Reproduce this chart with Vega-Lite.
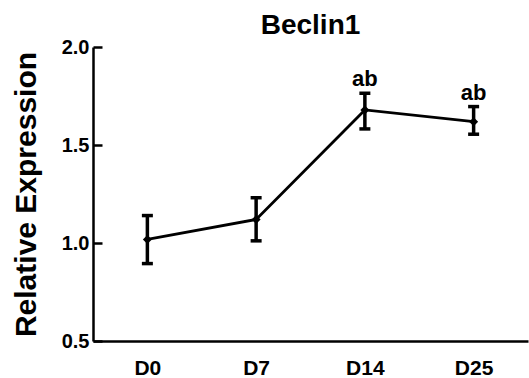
{
  "$schema": "https://vega.github.io/schema/vega-lite/v6.json",
  "width": 435,
  "height": 294,
  "autosize": {"type": "none"},
  "padding": {"left": 93, "top": 47, "right": 1, "bottom": 37},
  "title": {"text": "Beclin1", "fontSize": 28, "fontWeight": "bold", "font": "Liberation Sans", "color": "black", "offset": -3},
  "data": {"values": [
    {"day": "D0", "mean": 1.018, "lower": 0.895, "upper": 1.14, "label": ""},
    {"day": "D7", "mean": 1.12, "lower": 1.011, "upper": 1.231, "label": ""},
    {"day": "D14", "mean": 1.679, "lower": 1.582, "upper": 1.764, "label": "ab"},
    {"day": "D25", "mean": 1.619, "lower": 1.555, "upper": 1.696, "label": "ab"}
  ]},
  "config": {
    "view": {"stroke": null},
    "font": "Liberation Sans"
  },
  "encoding": {
    "x": {"field": "day", "type": "nominal", "sort": ["D0", "D7", "D14", "D25"],
      "scale": {"type": "point", "padding": 0.5},
      "axis": {"title": null, "labelAngle": 0, "labelFontSize": 21, "labelFontWeight": "bold", "labelColor": "black", "labelPadding": 16, "ticks": false, "domainColor": "black", "domainWidth": 2.5, "grid": false}}
  },
  "layer": [
    {
      "mark": {"type": "rule", "color": "black", "strokeWidth": 3.5, "opacity": 1},
      "encoding": {
        "y": {"field": "lower", "type": "quantitative", "scale": {"domain": [0.5, 2.0], "nice": false, "zero": false},
          "axis": {"title": "Relative Expression", "titleFontSize": 30, "titleFontWeight": "bold", "titleColor": "black", "titlePadding": 20,
            "values": [0.5, 1.0, 1.5, 2.0], "format": ".1f", "labelFontSize": 20, "labelFontWeight": "bold", "labelColor": "black", "labelPadding": 13,
            "tickSize": -9, "tickWidth": 2.5, "tickColor": "black", "domainColor": "black", "domainWidth": 2.5, "grid": false}},
        "y2": {"field": "upper"}
      }
    },
    {
      "mark": {"type": "tick", "color": "black", "thickness": 3.5, "size": 11, "opacity": 1},
      "encoding": {"y": {"field": "upper", "type": "quantitative"}}
    },
    {
      "mark": {"type": "tick", "color": "black", "thickness": 3.5, "size": 11, "opacity": 1},
      "encoding": {"y": {"field": "lower", "type": "quantitative"}}
    },
    {
      "mark": {"type": "line", "color": "black", "strokeWidth": 2.8},
      "encoding": {"y": {"field": "mean", "type": "quantitative"}}
    },
    {
      "mark": {"type": "point", "shape": "diamond", "filled": true, "color": "black", "size": 80, "opacity": 1},
      "encoding": {"y": {"field": "mean", "type": "quantitative"}}
    },
    {
      "mark": {"type": "text", "fontSize": 22, "fontWeight": "bold", "color": "black", "baseline": "alphabetic", "dy": -7},
      "encoding": {"y": {"field": "upper", "type": "quantitative"}, "text": {"field": "label"}}
    }
  ]
}
